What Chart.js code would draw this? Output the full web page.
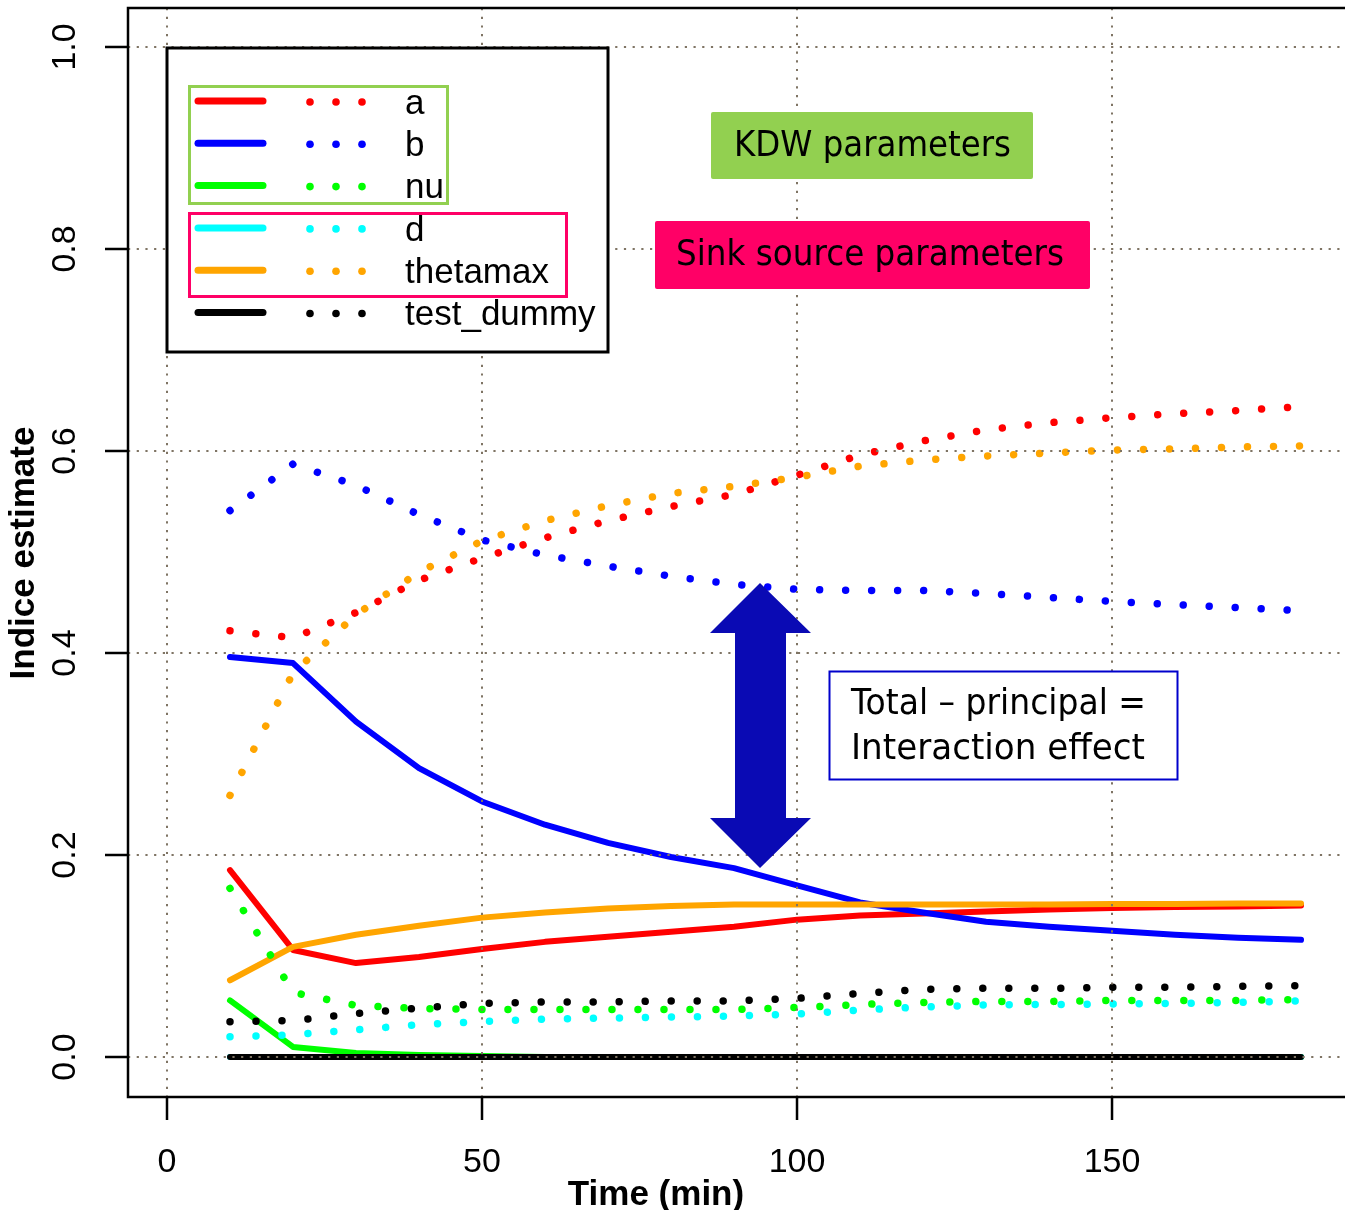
<!DOCTYPE html>
<html>
<head>
<meta charset="utf-8">
<script src="https://cdn.jsdelivr.net/npm/chart.js@4.4.1/dist/chart.umd.min.js"></script>
<style>
  html, body { margin: 0; padding: 0; background: #fff; }
  #chart { display: block; }
</style>
</head>
<body>
<canvas id="chart" width="1345" height="1210"></canvas>
<script>
// --- DADOS ---
const timeMin = [10, 20, 30, 40, 50, 60, 70, 80, 90, 100, 110, 120, 130, 140, 150, 160, 170, 180];

const paramNames = ['a', 'b', 'nu', 'd', 'thetamax', 'test_dummy'];
const paramColors = ['#ff0000', '#0000ff', '#00ff00', '#00ffff', '#ffa500', '#000000'];

// indices principaux (trait plein)
const aPrincipal = [0.185, 0.106, 0.093, 0.099, 0.107, 0.114, 0.119, 0.124, 0.129, 0.136, 0.140, 0.142, 0.144, 0.146, 0.1475, 0.1485, 0.149, 0.150];
const bPrincipal = [0.396, 0.390, 0.332, 0.286, 0.253, 0.230, 0.212, 0.198, 0.187, 0.170, 0.153, 0.143, 0.134, 0.129, 0.125, 0.121, 0.118, 0.116];
const nuPrincipal = [0.056, 0.010, 0.004, 0.002, 0.001, 0, 0, 0, 0, 0, 0, 0, 0, 0, 0, 0, 0, 0];
const dPrincipal = [0, 0, 0, 0, 0, 0, 0, 0, 0, 0, 0, 0, 0, 0, 0, 0, 0, 0];
const thetamaxPrincipal = [0.076, 0.109, 0.121, 0.130, 0.138, 0.143, 0.147, 0.1495, 0.151, 0.151, 0.151, 0.151, 0.151, 0.151, 0.1515, 0.1515, 0.152, 0.152];
const dummyPrincipal = [0, 0, 0, 0, 0, 0, 0, 0, 0, 0, 0, 0, 0, 0, 0, 0, 0, 0];

// indices totaux (pointillés)
const aTotal = [0.422, 0.415, 0.440, 0.472, 0.494, 0.514, 0.531, 0.545, 0.557, 0.576, 0.596, 0.610, 0.621, 0.628, 0.633, 0.637, 0.640, 0.644];
const bTotal = [0.541, 0.587, 0.566, 0.537, 0.512, 0.497, 0.486, 0.476, 0.468, 0.463, 0.462, 0.462, 0.459, 0.455, 0.451, 0.448, 0.445, 0.442];
const nuTotal = [0.167, 0.064, 0.051, 0.048, 0.047, 0.047, 0.047, 0.047, 0.047, 0.049, 0.052, 0.054, 0.055, 0.055, 0.056, 0.056, 0.056, 0.057];
const dTotal = [0.020, 0.022, 0.027, 0.032, 0.035, 0.0375, 0.0385, 0.0395, 0.0405, 0.0425, 0.0465, 0.0495, 0.0515, 0.052, 0.0525, 0.053, 0.054, 0.0555];
const thetamaxTotal = [0.259, 0.380, 0.438, 0.480, 0.511, 0.531, 0.546, 0.558, 0.565, 0.574, 0.585, 0.591, 0.595, 0.598, 0.601, 0.602, 0.604, 0.605];
const dummyTotal = [0.035, 0.036, 0.043, 0.0485, 0.053, 0.0545, 0.0545, 0.0555, 0.0555, 0.058, 0.063, 0.067, 0.068, 0.068, 0.069, 0.069, 0.070, 0.0705];

const xTicks = [0, 50, 100, 150];
const yTicks = [0, 0.2, 0.4, 0.6, 0.8, 1.0];
const yTickLabels = ['0.0', '0.2', '0.4', '0.6', '0.8', '1.0'];

const principalSeries = [aPrincipal, bPrincipal, nuPrincipal, dPrincipal, thetamaxPrincipal, dummyPrincipal];
const totalSeries = [aTotal, bTotal, nuTotal, dTotal, thetamaxTotal, dummyTotal];

// --- CONSTRUCTION DES DATASETS ---
const toPoints = (values) => values.map((v, i) => ({ x: timeMin[i], y: v }));

const datasets = [];
let drawIndex = 0;
const totalDraws = paramNames.length * 2;

// traits pleins d'abord, puis pointillés
principalSeries.forEach((values, i) => {
    datasets.push({
        label: paramNames[i] + ' (principal)',
        data: toPoints(values),
        borderColor: paramColors[i],
        borderWidth: 6,
        borderCapStyle: 'round',
        borderJoinStyle: 'round',
        pointRadius: 0,
        tension: 0,
        order: totalDraws - drawIndex++
    });
});
totalSeries.forEach((values, i) => {
    datasets.push({
        label: paramNames[i] + ' (total)',
        data: toPoints(values),
        borderColor: paramColors[i],
        borderWidth: 7.5,
        borderCapStyle: 'round',
        borderDash: [0.001, 26],
        pointRadius: 0,
        tension: 0,
        order: totalDraws - drawIndex++
    });
});

// --- HELPERS DE DESSIN ---
const fitText = (ctx, text, x, y, width, font) => {
    ctx.save();
    ctx.font = font;
    const w = ctx.measureText(text).width;
    const sx = width / w;
    ctx.translate(x, y);
    ctx.scale(sx, 1);
    ctx.textAlign = 'left';
    ctx.textBaseline = 'middle';
    ctx.fillText(text, 0, 0);
    ctx.restore();
};

const roundRect = (ctx, x, y, w, h, r) => {
    ctx.beginPath();
    ctx.moveTo(x + r, y);
    ctx.lineTo(x + w - r, y);
    ctx.quadraticCurveTo(x + w, y, x + w, y + r);
    ctx.lineTo(x + w, y + h - r);
    ctx.quadraticCurveTo(x + w, y + h, x + w - r, y + h);
    ctx.lineTo(x + r, y + h);
    ctx.quadraticCurveTo(x, y + h, x, y + h - r);
    ctx.lineTo(x, y + r);
    ctx.quadraticCurveTo(x, y, x + r, y);
    ctx.closePath();
};

// grille pointillée par-dessus les courbes (comme grid() de R)
const gridPlugin = {
    id: 'rGrid',
    afterDatasetsDraw(chart) {
        const { ctx, chartArea, scales } = chart;
        ctx.save();
        ctx.strokeStyle = '#7f7464';
        ctx.lineWidth = 2;
        ctx.setLineDash([2.2, 6.5]);
        xTicks.forEach(t => {
            const px = Math.round(scales.x.getPixelForValue(t));
            ctx.beginPath();
            ctx.moveTo(px, chartArea.top);
            ctx.lineTo(px, chartArea.bottom);
            ctx.stroke();
        });
        yTicks.forEach(t => {
            const py = Math.round(scales.y.getPixelForValue(t));
            ctx.beginPath();
            ctx.moveTo(chartArea.left, py);
            ctx.lineTo(chartArea.right, py);
            ctx.stroke();
        });
        ctx.restore();
    }
};

// cadre, axes, légende et annotations
const decorPlugin = {
    id: 'rDecor',
    afterDraw(chart) {
        const { ctx, chartArea, scales } = chart;
        ctx.save();

        // cadre
        ctx.strokeStyle = '#000';
        ctx.lineWidth = 2.5;
        ctx.strokeRect(chartArea.left, chartArea.top, chartArea.right - chartArea.left + 5, chartArea.bottom - chartArea.top);

        // axe x
        ctx.fillStyle = '#000';
        ctx.font = '34px "Liberation Sans", Arial, sans-serif';
        ctx.textAlign = 'center';
        ctx.textBaseline = 'middle';
        xTicks.forEach(t => {
            const px = scales.x.getPixelForValue(t);
            ctx.beginPath();
            ctx.moveTo(px, chartArea.bottom);
            ctx.lineTo(px, chartArea.bottom + 23);
            ctx.stroke();
            ctx.fillText(String(t), px, 1163);
        });
        ctx.font = 'bold 35px "Liberation Sans", Arial, sans-serif';
        ctx.fillText('Time (min)', 656, 1195);

        // axe y
        ctx.font = '34px "Liberation Sans", Arial, sans-serif';
        yTicks.forEach((t, i) => {
            const py = scales.y.getPixelForValue(t);
            ctx.beginPath();
            ctx.moveTo(chartArea.left - 23, py);
            ctx.lineTo(chartArea.left, py);
            ctx.stroke();
            ctx.save();
            ctx.translate(66, py);
            ctx.rotate(-Math.PI / 2);
            ctx.fillText(yTickLabels[i], 0, 0);
            ctx.restore();
        });
        ctx.save();
        ctx.translate(24, 553);
        ctx.rotate(-Math.PI / 2);
        ctx.font = 'bold 35px "Liberation Sans", Arial, sans-serif';
        ctx.fillText('Indice estimate', 0, 0);
        ctx.restore();

        // légende
        ctx.fillStyle = '#fff';
        ctx.fillRect(167, 48, 441, 304);
        ctx.lineWidth = 3;
        ctx.strokeStyle = '#000';
        ctx.strokeRect(167, 48, 441, 304);

        ctx.font = '35px "Liberation Sans", Arial, sans-serif';
        ctx.textAlign = 'left';
        paramNames.forEach((name, i) => {
            const ry = 101 + 42.3 * i;
            ctx.strokeStyle = paramColors[i];
            ctx.lineWidth = 7;
            ctx.lineCap = 'round';
            ctx.beginPath();
            ctx.moveTo(198, ry);
            ctx.lineTo(263, ry);
            ctx.stroke();
            ctx.fillStyle = paramColors[i];
            [310, 336, 362].forEach(dx => {
                ctx.beginPath();
                ctx.arc(dx, ry + 1, 3.8, 0, Math.PI * 2);
                ctx.fill();
            });
            ctx.fillStyle = '#000';
            ctx.fillText(name, 405, ry + 3);
        });

        ctx.lineCap = 'butt';
        ctx.lineWidth = 3;
        ctx.strokeStyle = '#92d050';
        ctx.strokeRect(189.5, 86.5, 258, 117);
        ctx.strokeStyle = '#ff0066';
        ctx.strokeRect(189.5, 213.5, 377, 83);

        // boîtes d'annotation
        ctx.fillStyle = '#92d050';
        roundRect(ctx, 711, 112, 322, 67, 2);
        ctx.fill();
        ctx.fillStyle = '#ff0066';
        roundRect(ctx, 655, 221, 435, 68, 2);
        ctx.fill();

        ctx.fillStyle = '#000';
        const boxFont = '35px "DejaVu Sans", Verdana, sans-serif';
        fitText(ctx, 'KDW parameters', 734, 147, 277, boxFont);
        fitText(ctx, 'Sink source parameters', 676, 256, 388, boxFont);

        ctx.fillStyle = '#fff';
        ctx.fillRect(829, 671, 349, 108);
        ctx.strokeStyle = '#0000cc';
        ctx.lineWidth = 2;
        ctx.strokeRect(829.5, 671.5, 348, 108);
        ctx.fillStyle = '#000';
        fitText(ctx, 'Total \u2013 principal =', 851, 705, 295, boxFont);
        fitText(ctx, 'Interaction effect', 851, 750, 294, boxFont);

        // flèche double
        ctx.fillStyle = '#0a0ab4';
        ctx.beginPath();
        ctx.moveTo(760, 583);
        ctx.lineTo(811, 633);
        ctx.lineTo(786, 633);
        ctx.lineTo(786, 818);
        ctx.lineTo(811, 818);
        ctx.lineTo(760, 868);
        ctx.lineTo(710, 818);
        ctx.lineTo(735, 818);
        ctx.lineTo(735, 633);
        ctx.lineTo(710, 633);
        ctx.closePath();
        ctx.fill();

        ctx.restore();
    }
};

// --- GRÁFICO ---
const ctx = document.getElementById('chart').getContext('2d');
new Chart(ctx, {
    type: 'line',
    data: { datasets: datasets },
    options: {
        responsive: false,
        animation: false,
        layout: { padding: { left: 128, top: 8, right: 0, bottom: 113 } },
        scales: {
            x: { type: 'linear', min: -6.19, max: 186.98, display: false },
            y: { type: 'linear', min: -0.0396, max: 1.0386, display: false }
        },
        plugins: {
            legend: { display: false },
            tooltip: { enabled: false }
        }
    },
    plugins: [gridPlugin, decorPlugin]
});
</script>
</body>
</html>
